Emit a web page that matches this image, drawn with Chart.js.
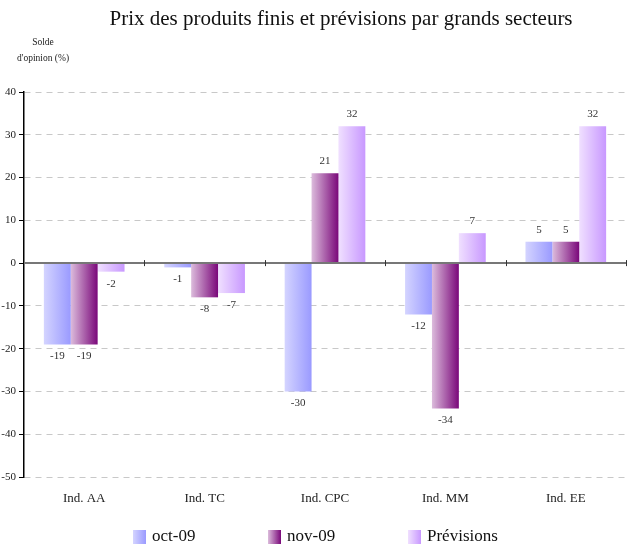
<!DOCTYPE html>
<html>
<head>
<meta charset="utf-8">
<script src="https://cdn.jsdelivr.net/npm/chart.js@4.4.1/dist/chart.umd.min.js"></script>
<style>
html,body{margin:0;padding:0;background:#fff;}
#wrap{width:635px;height:546px;}
</style>
</head>
<body>
<div id="wrap"><canvas id="c" width="635" height="546"></canvas></div>
<script>
const categories=['Ind. AA','Ind. TC','Ind. CPC','Ind. MM','Ind. EE'];
const seriesNames=['oct-09','nov-09','Prévisions'];
const oct09=[-19,-1,-30,-12,5];
const nov09=[-19,-8,21,-34,5];
const previsions=[-2,-7,32,7,32];
const yTicks={min:-50,max:40,step:10};
const chartTitle='Prix des produits finis et prévisions par grands secteurs';
const yTitle=['Solde',"d'opinion (%)"];

const FONT='"Liberation Serif", "DejaVu Serif", serif';
const grads=[['#d4d4ff','#9a9aff'],['#dcbcdc','#7a087a'],['#f0e0ff','#c898ff']];
const CAT_PCT=0.67;

function barGrad(c){
  const ch=c.chart, xs=ch.scales.x, area=ch.chartArea;
  const g=grads[c.datasetIndex];
  if(!xs||!area||c.dataIndex==null) return g[1];
  const cw=xs.width/categories.length, bw=cw*CAT_PCT/3;
  const left=xs.getPixelForValue(c.dataIndex)-cw*CAT_PCT/2+c.datasetIndex*bw;
  const gr=ch.ctx.createLinearGradient(left,0,left+bw,0);
  gr.addColorStop(0,g[0]); gr.addColorStop(1,g[1]);
  return gr;
}

const decor={
  id:'decor',
  afterDraw(chart){
    const ctx=chart.ctx, xs=chart.scales.x, ys=chart.scales.y, a=chart.chartArea;
    ctx.save();
    // zero line + tick marks between categories
    const y0=ys.getPixelForValue(0);
    ctx.strokeStyle='#777'; ctx.lineWidth=2;
    ctx.beginPath(); ctx.moveTo(a.left,y0); ctx.lineTo(a.right,y0); ctx.stroke();
    ctx.strokeStyle='#333'; ctx.lineWidth=1;
    const cw=xs.width/categories.length;
    for(let i=1;i<=categories.length;i++){
      const x=Math.round(a.left+i*cw)+0.5;
      ctx.beginPath(); ctx.moveTo(x,y0-3); ctx.lineTo(x,y0+3); ctx.stroke();
    }
    // value labels
    ctx.fillStyle='#333'; ctx.font='11px '+FONT; ctx.textAlign='center'; ctx.textBaseline='middle';
    chart.data.datasets.forEach((ds,di)=>{
      chart.getDatasetMeta(di).data.forEach((bar,i)=>{
        const v=ds.data[i];
        ctx.fillText(String(v),bar.x,v>=0?bar.y-12:bar.y+12);
      });
    });
    // title
    ctx.fillStyle='#111'; ctx.font='21px '+FONT;
    ctx.fillText(chartTitle,341,19);
    ctx.font='9.5px '+FONT; ctx.fillStyle='#222';
    ctx.fillText(yTitle[0],43,42); ctx.fillText(yTitle[1],43,58);
    // legend
    const lx=[133,268,408];
    ctx.font='17px '+FONT; ctx.textAlign='left'; ctx.fillStyle='#111';
    seriesNames.forEach((n,i)=>{
      const gr=ctx.createLinearGradient(lx[i],0,lx[i]+13,0);
      gr.addColorStop(0,grads[i][0]); gr.addColorStop(1,grads[i][1]);
      ctx.fillStyle=gr; ctx.fillRect(lx[i],530,13,14);
      ctx.fillStyle='#111'; ctx.fillText(n,lx[i]+19,537);
    });
    ctx.restore();
  }
};

new Chart(document.getElementById('c'),{
  type:'bar',
  data:{
    labels:categories,
    datasets:[oct09,nov09,previsions].map((d,i)=>({
      label:seriesNames[i], data:d, backgroundColor:barGrad, borderWidth:0,
      categoryPercentage:CAT_PCT, barPercentage:1
    }))
  },
  options:{
    responsive:false, animation:false,
    layout:{padding:{top:92,right:9,bottom:29,left:0}},
    plugins:{legend:{display:false},tooltip:{enabled:false},title:{display:false}},
    scales:{
      x:{
        grid:{display:false}, border:{display:false},
        ticks:{color:'#222',font:{family:FONT,size:13},padding:6},
        afterFit(s){s.height=40;}
      },
      y:{
        min:yTicks.min,max:yTicks.max,
        ticks:{stepSize:yTicks.step,color:'#222',font:{family:FONT,size:11},padding:3},
        grid:{color:'#c8c8c8',lineWidth:1,tickLength:5,tickColor:'#000',tickBorderDash:[]},
        border:{display:true,color:'#000',width:1.5,dash:[6,5]},
        afterFit(s){s.width=24;}
      }
    }
  },
  plugins:[decor]
});
</script>
</body>
</html>
